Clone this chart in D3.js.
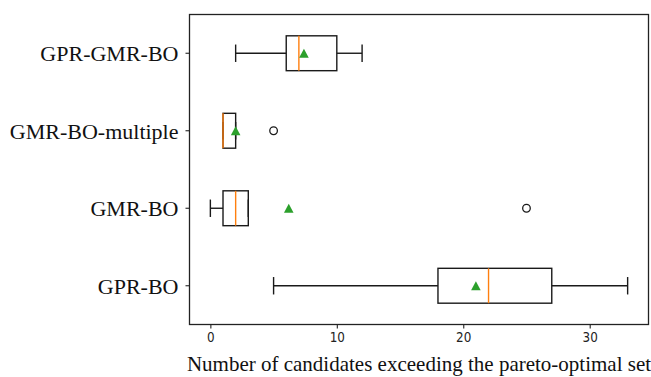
<!DOCTYPE html>
<html>
<head>
<meta charset="utf-8">
<script src="https://cdn.jsdelivr.net/npm/d3@7"></script>
<style>
  html, body { margin: 0; padding: 0; background: #fff; }
  svg { display: block; }
</style>
</head>
<body>
<svg id="chart" width="651" height="377"></svg>
<script>
// Box plot statistics per method (top to bottom)
const categories  = ["GPR-GMR-BO", "GMR-BO-multiple", "GMR-BO", "GPR-BO"];
const whiskerLow  = [2, 1, 0, 5];
const q1          = [6, 1, 1, 18];
const medians     = [7, 1, 2, 22];
const q3          = [10, 2, 3, 27];
const whiskerHigh = [12, 2, 3, 33];
const means       = [7.4, 2.0, 6.2, 21.0];
const outliers    = [[], [5], [25], []];
const xTicks      = [0, 10, 20, 30];
const xLabel      = "Number of candidates exceeding the pareto-optimal set";

const rows = categories.map((c, i) => ({
  name: c, lo: whiskerLow[i], q1: q1[i], med: medians[i], q3: q3[i],
  hi: whiskerHigh[i], mean: means[i], fliers: outliers[i]
}));

const serif = "\"Liberation Serif\"";
const sans = "\"DejaVu Sans\"";

const plotL = 189.5, plotR = 648.5, plotT = 14.5, plotB = 324.5;
const svg = d3.select("#chart");

const x = d3.scaleLinear().domain([-1.65, 34.65]).range([plotL, plotR]);
const y = d3.scaleBand().domain(categories).range([plotT, plotB]).padding(0);
const bw = y.bandwidth();
const boxH = 0.45 * bw;
const capH = 0.5 * boxH;
const cy = d => y(d.name) + bw / 2;

const ink = "#1a1a1a";

// boxes
const g = svg.append("g");
const row = g.selectAll("g.row").data(rows).join("g").attr("class", "row");

// whiskers
row.append("line")
  .attr("x1", d => x(d.lo)).attr("x2", d => x(d.q1))
  .attr("y1", cy).attr("y2", cy)
  .attr("stroke", ink).attr("stroke-width", 1.4);
row.append("line")
  .attr("x1", d => x(d.q3)).attr("x2", d => x(d.hi))
  .attr("y1", cy).attr("y2", cy)
  .attr("stroke", ink).attr("stroke-width", 1.4);
// caps
row.append("line")
  .attr("x1", d => x(d.lo)).attr("x2", d => x(d.lo))
  .attr("y1", d => cy(d) - capH / 2).attr("y2", d => cy(d) + capH / 2)
  .attr("stroke", ink).attr("stroke-width", 1.4);
row.append("line")
  .attr("x1", d => x(d.hi)).attr("x2", d => x(d.hi))
  .attr("y1", d => cy(d) - capH / 2).attr("y2", d => cy(d) + capH / 2)
  .attr("stroke", ink).attr("stroke-width", 1.4);
// box
row.append("rect")
  .attr("x", d => x(d.q1)).attr("width", d => x(d.q3) - x(d.q1))
  .attr("y", d => cy(d) - boxH / 2).attr("height", boxH)
  .attr("fill", "none").attr("stroke", ink).attr("stroke-width", 1.4);
// median
row.append("line")
  .attr("x1", d => x(d.med)).attr("x2", d => x(d.med))
  .attr("y1", d => cy(d) - boxH / 2).attr("y2", d => cy(d) + boxH / 2)
  .attr("stroke", "#ff7f0e").attr("stroke-width", 1.4);
// mean marker (triangle)
row.append("path")
  .attr("d", d => {
    const mx = x(d.mean), my = cy(d);
    return `M${mx - 4.8},${my + 4.5}L${mx + 4.8},${my + 4.5}L${mx},${my - 4.6}Z`;
  })
  .attr("fill", "#2ca02c");
// fliers
row.selectAll("circle").data(d => d.fliers.map(v => ({ v, c: cy(d) })))
  .join("circle")
  .attr("cx", p => x(p.v)).attr("cy", p => p.c).attr("r", 3.8)
  .attr("fill", "none").attr("stroke", ink).attr("stroke-width", 1.3);

// frame
svg.append("rect")
  .attr("x", plotL).attr("y", plotT).attr("width", plotR - plotL).attr("height", plotB - plotT)
  .attr("fill", "none").attr("stroke", "#222").attr("stroke-width", 1.3);

// x axis
const xAxis = svg.append("g")
  .attr("transform", `translate(0,${plotB})`)
  .call(d3.axisBottom(x).tickValues(xTicks).tickSize(4).tickPadding(3));
xAxis.attr("font-family", null);
xAxis.select(".domain").remove();
xAxis.selectAll(".tick line").attr("stroke", "#222").attr("stroke-width", 1.1);
xAxis.selectAll(".tick text")
  .attr("fill", "#222")
  .style("font-family", sans)
  .style("font-size", "12px")
  .attr("transform", "translate(0,-1.5) scale(1,1.2)");

// y axis
const yAxis = svg.append("g")
  .attr("transform", `translate(${plotL},0)`)
  .call(d3.axisLeft(y).tickSize(4).tickPadding(7));
yAxis.attr("font-family", null);
yAxis.select(".domain").remove();
yAxis.selectAll(".tick line").attr("stroke", "#222").attr("stroke-width", 1.1);
yAxis.selectAll(".tick text")
  .attr("fill", "#111")
  .attr("dy", "0.36em")
  .style("font-family", serif)
  .style("font-size", "22px");

// x label
svg.append("text")
  .attr("x", (plotL + plotR) / 2).attr("y", 371)
  .attr("text-anchor", "middle")
  .attr("fill", "#111")
  .style("font-family", serif)
  .style("font-size", "21px")
  .text(xLabel);
</script>
</body>
</html>
